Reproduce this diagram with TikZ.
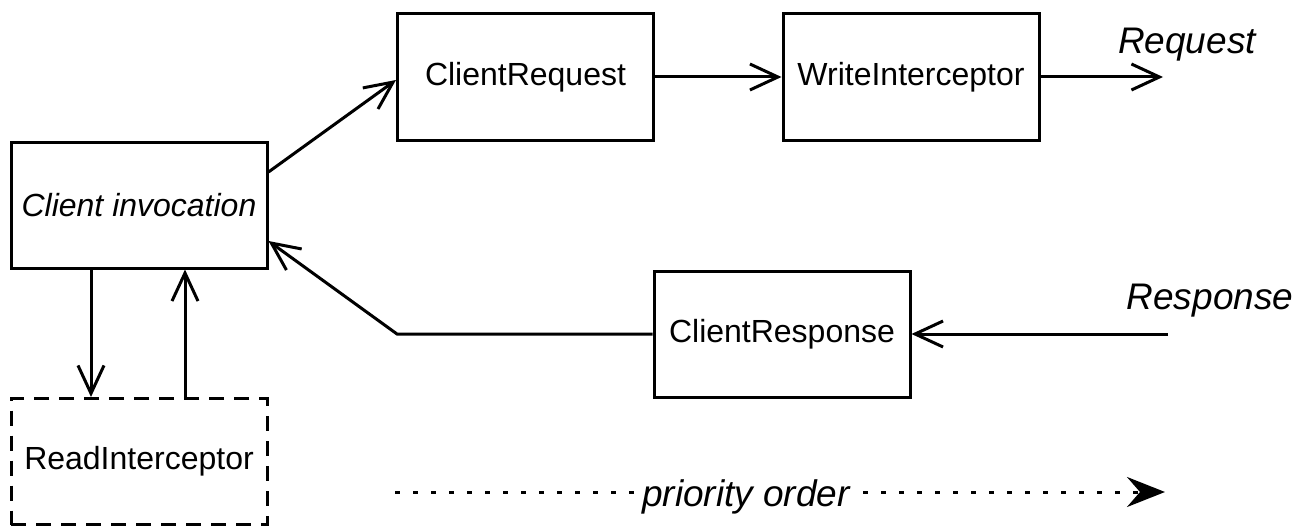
\documentclass[tikz,border=0pt]{standalone}
\usepackage{fontspec}
\setmainfont{Liberation Sans}
\usetikzlibrary{arrows.meta}
\begin{document}
\begin{tikzpicture}[x=1pt,y=-1pt,line width=3pt,
  box/.style={draw,line width=3pt,minimum width=256pt,minimum height=126pt,inner sep=0pt,font=\fontsize{32}{38}\selectfont},
  lbl/.style={font=\fontsize{37}{44}\selectfont\itshape},
  open/.style={-{Straight Barb[length=28pt,width=26pt]}},
  dashbox/.style={box,dash pattern=on 15pt off 10pt},
  prioarrow/.style={dash pattern=on 5pt off 13pt,-{Stealth[length=38pt,width=30pt,inset=13pt]}}
]
\useasboundingbox (0,0) rectangle (1310,527);
\node[box] (inv) at (139,205) {\itshape Client invocation};
\node[box] (creq) at (525.5,77) {ClientRequest};
\node[box] (wint) at (911,77) {WriteInterceptor};
\node[box] (cresp) at (782,334) {ClientResponse};
\node[dashbox] (rint) at (139,461.5) {ReadInterceptor};

\coordinate (reqend) at (1163,77);
\coordinate (respstart) at (1168,334);
\coordinate (bend) at (397,334);
\coordinate (ps) at (395,492);
\coordinate (pe) at (1165,492);

\node[lbl,anchor=base] (reqlbl) at (1187,54) {Request};
\node[lbl,anchor=base] (resplbl) at (1210,309) {Response};

\draw[open] ([yshift=33pt]inv.east) -- ([yshift=-3pt]creq.west);
\draw[open] (creq.east) -- (wint.west);
\draw[open] (wint.east) -- (reqend);
\draw[open] (respstart) -- (cresp.east);
\draw[open] (cresp.west) -- (bend) -- ([yshift=-36pt]inv.east);
\draw[open] ([xshift=-48pt]inv.south) -- ([xshift=-48pt]rint.north);
\draw[open] ([xshift=46pt]rint.north) -- ([xshift=46pt]inv.south);

\draw[prioarrow] (ps) -- (pe);
\node[lbl,fill=white,inner sep=0pt,anchor=base] (prio) at (746,506) {priority order};
\end{tikzpicture}
\end{document}
